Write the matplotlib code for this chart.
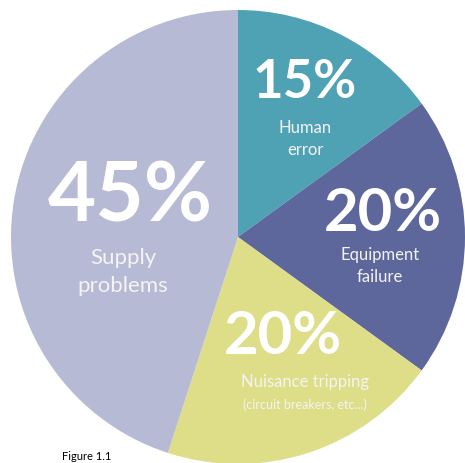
import matplotlib.pyplot as plt

# slices, clockwise from 12 o'clock
labels = ["Human\nerror", "Equipment\nfailure", "Nuisance tripping", "Supply\nproblems"]
shares = [15, 20, 20, 45]
colors = ["#4fa2b4", "#5d679c", "#dedd88", "#b7bad4"]

W, H = 465, 463
fig = plt.figure(figsize=(W / 100, H / 100), dpi=100)
ax = fig.add_axes([0, 0, 1, 1])

# y axis is inverted, so counterclock=True draws clockwise on screen
ax.pie(shares, colors=colors, startangle=-90, counterclock=True,
       center=(238, 237), radius=227, frame=True,
       wedgeprops=dict(linewidth=0))
ax.set_xlim(0, W)
ax.set_ylim(H, 0)
ax.set_aspect("equal")
ax.axis("off")

big = dict(color="white", fontweight="bold", family=["Lato", "DejaVu Sans"],
           ha="center", va="center")
small = dict(color="#f4f4f4", family=["Lato", "DejaVu Sans"],
             ha="center", va="center")

# percentages
ax.text(305, 83, f"{shares[0]}%", fontsize=38, **big)
ax.text(383, 214, f"{shares[1]}%", fontsize=43, **big)
ax.text(283, 337, f"{shares[2]}%", fontsize=43, **big)
ax.text(130, 198, f"{shares[3]}%", fontsize=60, **big)

# category names
ax.text(305, 139, labels[0], fontsize=12, linespacing=1.5, **small)
ax.text(380, 266, labels[1], fontsize=12, linespacing=1.5, **small)
ax.text(305, 382, labels[2], fontsize=12, **small)
ax.text(305, 405, "(circuit breakers, etc...)", fontsize=9, **small)
ax.text(123, 272, labels[3], fontsize=16, linespacing=1.45, **small)

# caption at the bottom edge
ax.text(62, 451, "Figure 1.1", fontsize=8, color="black",
        family=["Lato", "DejaVu Sans"], ha="left", va="top")

fig.savefig("out.png", dpi=100)
